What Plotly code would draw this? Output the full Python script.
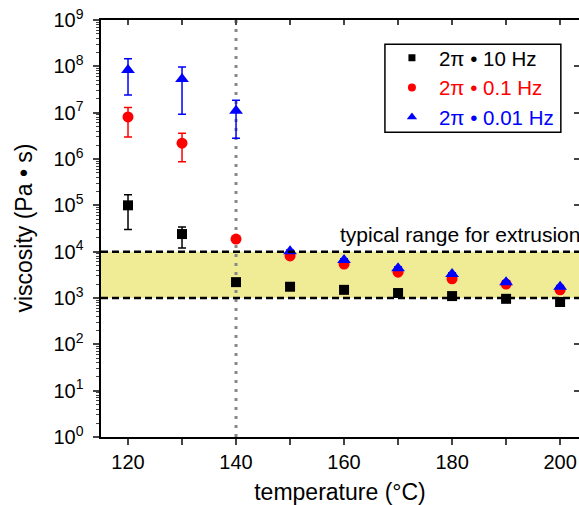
import plotly.graph_objects as go

temps = [120, 130, 140, 150, 160, 170, 180, 190, 200]

visc_10hz = [1.0e5, 2.4e4, 2.2e3, 1.75e3, 1.5e3, 1.28e3, 1.1e3, 9.6e2, 8.2e2]
err_up_10hz = [0.7e5, 1.0e4, 150, 100, 80, 60, 50, 40, 40]
err_dn_10hz = [0.7e5, 1.2e4, 150, 100, 80, 60, 50, 40, 40]

visc_01hz = [8.1e6, 2.2e6, 1.87e4, 8.1e3, 5.4e3, 3.6e3, 2.6e3, 2.0e3, 1.5e3]
err_up_01hz = [4.9e6, 1.4e6, 2.5e3, 500, 300, 200, 150, 100, 80]
err_dn_01hz = [5.1e6, 1.33e6, 2.5e3, 500, 300, 200, 150, 100, 80]

visc_001hz = [8.3e7, 5.3e7, 1.1e7, 1.02e4, 6.6e3, 4.4e3, 3.3e3, 2.2e3, 1.75e3]
err_up_001hz = [6.2e7, 4.4e7, 7.6e6, 600, 400, 300, 200, 150, 100]
err_dn_001hz = [5.9e7, 4.37e7, 8.2e6, 600, 400, 300, 200, 150, 100]

x_ticks = [120, 140, 160, 180, 200]
y_tickvals = [10 ** i for i in range(10)]
y_ticktext = ["10<sup>%d</sup>\u00a0" % i for i in range(10)]

extrusion_low, extrusion_high = 1e3, 1e4
gel_temp = 140

series = [
    ("2π • 10 Hz", "black", "square", 10, 7, visc_10hz, err_up_10hz, err_dn_10hz),
    ("2π • 0.1 Hz", "red", "circle", 11, 8, visc_01hz, err_up_01hz, err_dn_01hz),
    ("2π • 0.01 Hz", "blue", "triangle-up", 12, 9, visc_001hz, err_up_001hz, err_dn_001hz),
]

fig = go.Figure()
for name, color, sym, size, lsize, vals, eu, ed in series:
    fig.add_trace(go.Scatter(
        x=temps, y=vals, mode="markers", showlegend=False,
        marker=dict(color=color, symbol=sym, size=size),
        error_y=dict(type="data", symmetric=False, array=eu, arrayminus=ed,
                     color=color, thickness=1.5, width=4),
    ))
    # legend entry with smaller symbol
    fig.add_trace(go.Scatter(
        x=[None], y=[None], mode="markers",
        name="<span style='color:%s'>%s</span>" % (color, name),
        marker=dict(color=color, symbol=sym, size=lsize),
    ))

xr = [115, 203.5]

# Yellow band and lines
fig.add_shape(type="rect", xref="paper", yref="y", x0=0, x1=1,
              y0=extrusion_low, y1=extrusion_high,
              fillcolor="rgb(240,236,150)", line=dict(width=0), layer="below")
for yv in [extrusion_low, extrusion_high]:
    fig.add_shape(type="line", xref="paper", yref="y", x0=0, x1=1, y0=yv, y1=yv,
                  line=dict(color="black", width=2.5, dash="7px,4px"))
fig.add_shape(type="line", xref="x", yref="paper", x0=gel_temp, x1=gel_temp, y0=0, y1=1,
              line=dict(color="#888888", width=3, dash="3px,6px"), layer="below")
# legend frame
fig.add_shape(type="rect", xref="paper", yref="paper", x0=0.594, x1=0.962, y0=0.731, y1=0.942,
              fillcolor="white", line=dict(color="black", width=1.5))

fig.add_annotation(text="typical range for extrusion", x=158.9, xref="x",
                   y=4.36, yref="y", xanchor="left", yanchor="middle",
                   showarrow=False, font=dict(size=21, color="black"))
fig.add_annotation(text="viscosity (Pa • s)", x=-0.163, xref="paper", y=0.5, yref="paper",
                   xanchor="center", yanchor="middle", textangle=-90, showarrow=False,
                   font=dict(size=23, color="black"))

font = "Liberation Sans, Arial, sans-serif"
fig.update_layout(
    width=579, height=505,
    margin=dict(l=101, r=0, t=20, b=68),
    paper_bgcolor="white", plot_bgcolor="white",
    font=dict(family=font, size=20, color="black"),
    showlegend=True,
    legend=dict(x=0.594, xanchor="left", y=0.957, yanchor="top",
                borderwidth=0, bgcolor="rgba(0,0,0,0)",
                font=dict(size=20.5), itemsizing="trace", itemwidth=44, tracegroupgap=0),
    xaxis=dict(range=xr, tickvals=x_ticks, ticks="outside", ticklen=6, tickwidth=2,
               showline=True, linecolor="black", linewidth=2, showgrid=False, zeroline=False,
               minor=dict(ticks="outside", ticklen=6, tickwidth=2, dtick=10, tick0=0),
               title=dict(text="temperature (°C)", standoff=12, font=dict(size=23))),
    xaxis2=dict(range=xr, overlaying="x", side="top", tickvals=temps, ticks="inside",
                ticklen=5, tickwidth=2, showticklabels=False, showline=True,
                linecolor="black", linewidth=2, showgrid=False, zeroline=False),
    yaxis=dict(type="log", range=[0, 9], tickvals=y_tickvals, ticktext=y_ticktext,
               ticks="outside", ticklen=6, tickwidth=2, showline=True, linecolor="black",
               linewidth=2, showgrid=False, zeroline=False,
               minor=dict(ticks="outside", ticklen=3, tickwidth=1, dtick="D1")),
    yaxis2=dict(type="log", range=[0, 9], overlaying="y", side="right", tickvals=y_tickvals,
                ticks="inside", ticklen=5, tickwidth=2, showticklabels=False, showline=False,
                showgrid=False, zeroline=False),
)
# dummy traces to activate xaxis2 / yaxis2
fig.add_trace(go.Scatter(x=[None], y=[None], xaxis="x2", yaxis="y", showlegend=False))
fig.add_trace(go.Scatter(x=[None], y=[None], xaxis="x", yaxis="y2", showlegend=False))

fig.write_html("out.html", config={"displayModeBar": False},
               post_script="document.body.style.margin='0';document.body.style.overflow='hidden';")
